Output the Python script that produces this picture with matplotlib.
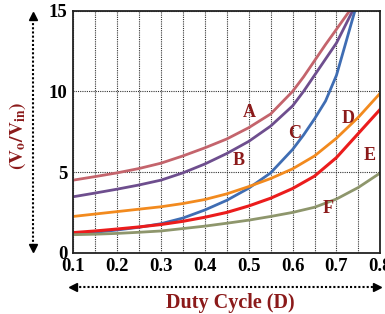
import matplotlib
matplotlib.use("Agg")
import matplotlib.pyplot as plt
from matplotlib.lines import Line2D

#data (duty cycle vs voltage gain)
d_full = [0.10, 0.15, 0.20, 0.25, 0.30, 0.35, 0.40, 0.45, 0.50, 0.55, 0.60, 0.65, 0.70, 0.75, 0.80]

d_a = [0.10, 0.15, 0.20, 0.25, 0.30, 0.35, 0.40, 0.45, 0.50, 0.55, 0.60, 0.625, 0.65, 0.675, 0.70, 0.73]
gain_a = [4.5, 4.72, 4.95, 5.22, 5.55, 6.0, 6.5, 7.05, 7.75, 8.6, 10.0, 10.9, 11.9, 12.9, 13.85, 15.0]

d_b = [0.10, 0.15, 0.20, 0.25, 0.30, 0.35, 0.40, 0.45, 0.50, 0.55, 0.60, 0.625, 0.65, 0.675, 0.70, 0.737]
gain_b = [3.47, 3.7, 3.94, 4.2, 4.5, 4.95, 5.5, 6.15, 6.9, 7.85, 9.1, 10.0, 11.0, 12.0, 13.0, 15.0]

d_c = [0.10, 0.15, 0.20, 0.25, 0.30, 0.35, 0.40, 0.45, 0.50, 0.55, 0.60, 0.625, 0.65, 0.675, 0.70, 0.72, 0.742]
gain_c = [1.15, 1.27, 1.41, 1.58, 1.8, 2.15, 2.65, 3.25, 4.0, 4.95, 6.4, 7.3, 8.3, 9.4, 11.0, 12.9, 15.0]

gain_d = [2.25, 2.4, 2.55, 2.7, 2.85, 3.05, 3.3, 3.65, 4.1, 4.6, 5.2, 6.0, 7.1, 8.4, 9.9]
gain_e = [1.25, 1.35, 1.47, 1.6, 1.75, 1.95, 2.2, 2.5, 2.9, 3.38, 3.98, 4.75, 5.9, 7.4, 8.9]
gain_f = [1.12, 1.15, 1.2, 1.27, 1.35, 1.5, 1.65, 1.83, 2.02, 2.25, 2.5, 2.82, 3.33, 4.05, 4.95]

labels = ["A", "B", "C", "D", "E", "F"]
label_pos = [(0.502, 8.7), (0.476, 5.72), (0.605, 7.39), (0.726, 8.3), (0.776, 6.03), (0.681, 2.74)]

colors = ["#C4646C", "#6E4E8E", "#3F6DB3", "#F28A1E", "#EB1C1C", "#8E966C"]
dark_red = "#8B1A1A"

plt.rcParams["font.family"] = ["Liberation Serif", "DejaVu Serif"]
plt.rcParams["font.weight"] = "bold"
plt.rcParams["mathtext.fontset"] = "stix"

fig = plt.figure(figsize=(3.85, 3.14), dpi=100)
ax = fig.add_axes([0.190, 0.195, 0.798, 0.771])

ax.plot(d_a, gain_a, color=colors[0], lw=2.0)
ax.plot(d_b, gain_b, color=colors[1], lw=2.0)
ax.plot(d_c, gain_c, color=colors[2], lw=2.0)
ax.plot(d_full, gain_d, color=colors[3], lw=2.0)
ax.plot(d_full, gain_e, color=colors[4], lw=2.2)
ax.plot(d_full, gain_f, color=colors[5], lw=2.0)

for lab, (x, y) in zip(labels, label_pos):
    ax.text(x, y, lab, color=dark_red, fontsize=13, fontweight="bold", ha="center", va="center")

ax.set_xlim(0.1, 0.8)
ax.set_ylim(0, 15)
ax.set_xticks([0.1, 0.2, 0.3, 0.4, 0.5, 0.6, 0.7, 0.8])
ax.set_xticklabels(["0.1", "0.2", "0.3", "0.4", "0.5", "0.6", "0.7", "0.8"])
ax.set_xticks([0.15, 0.25, 0.35, 0.45, 0.55, 0.65, 0.75], minor=True)
ax.set_yticks([0, 5, 10, 15])
ax.tick_params(axis="both", which="both", length=0, labelsize=13.5, pad=4)
for t in ax.get_xticklabels() + ax.get_yticklabels():
    t.set_fontweight("bold")

#dotted grid: vertical every 0.05, horizontal at 5 and 10
ax.grid(True, which="both", axis="x", color="#333333", linestyle=(0, (1, 1)), lw=0.8)
ax.grid(True, which="major", axis="y", color="#333333", linestyle=(0, (1, 1)), lw=0.8)
for s in ax.spines.values():
    s.set_linewidth(1.3)
    s.set_color("#222222")

#axis labels with dotted double arrows
fig.text(0.598, 0.035, "Duty Cycle (D)", color=dark_red, fontsize=14.5, fontweight="bold", ha="center", va="center")
fig.text(0.045, 0.567, r"$\mathbf{(V_o/V_{in})}$", color=dark_red, fontsize=14, rotation=90, ha="center", va="center")

fig.add_artist(Line2D([0.195, 0.975], [0.087, 0.087], transform=fig.transFigure, color="black", lw=1.5, ls=(0, (1, 1))))
fig.add_artist(Line2D([0.190], [0.087], transform=fig.transFigure, marker="<", color="black", ms=6))
fig.add_artist(Line2D([0.980], [0.087], transform=fig.transFigure, marker=">", color="black", ms=6))

fig.add_artist(Line2D([0.086, 0.086], [0.215, 0.945], transform=fig.transFigure, color="black", lw=1.5, ls=(0, (1, 1))))
fig.add_artist(Line2D([0.086], [0.950], transform=fig.transFigure, marker="^", color="black", ms=6))
fig.add_artist(Line2D([0.086], [0.210], transform=fig.transFigure, marker="v", color="black", ms=6))

fig.savefig("out.png", dpi=100)
